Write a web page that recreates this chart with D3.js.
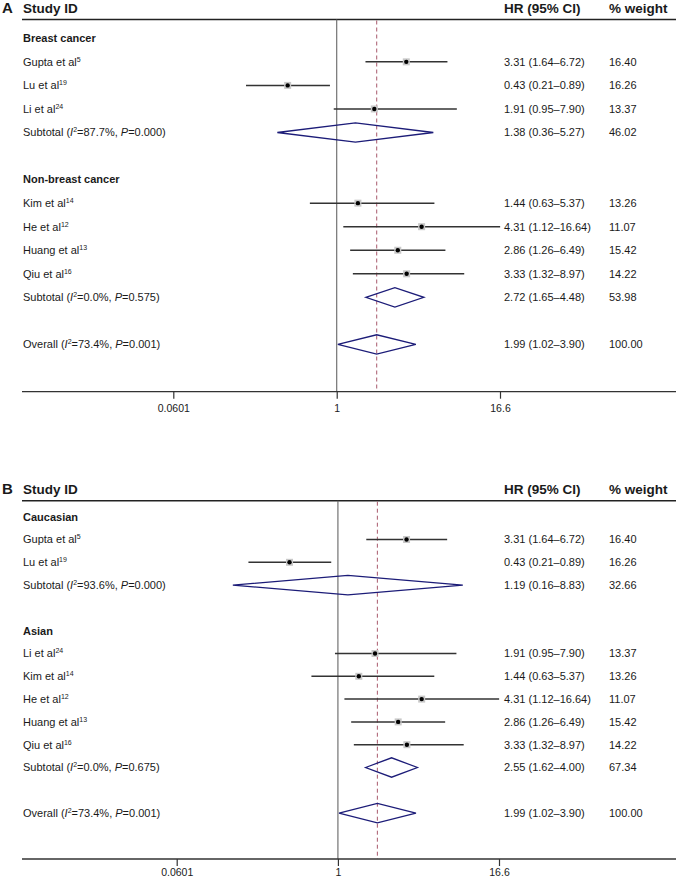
<!DOCTYPE html>
<html>
<head>
<meta charset="utf-8">
<script src="https://cdn.jsdelivr.net/npm/d3@7"></script>
<style>
  html, body { margin: 0; padding: 0; background: #fff; }
  svg { display: block; font-family: "Liberation Sans", Arial, sans-serif; }
</style>
</head>
<body>
<svg id="chart" width="676" height="880"></svg>
<script>
// ---------------- DATA ----------------
const studyNames = ["Gupta et al", "Lu et al", "Li et al", "Kim et al", "He et al", "Huang et al", "Qiu et al"];
const studyRefs  = ["5", "19", "24", "14", "12", "13", "16"];
const studyHR    = [3.31, 0.43, 1.91, 1.44, 4.31, 2.86, 3.33];
const studyLo    = [1.64, 0.21, 0.95, 0.63, 1.12, 1.26, 1.32];
const studyHi    = [6.72, 0.89, 7.90, 5.37, 16.64, 6.49, 8.97];
const studyWt    = ["16.40", "16.26", "13.37", "13.26", "11.07", "15.42", "14.22"];

const groupsA        = ["Breast cancer", "Non-breast cancer"];
const membersA       = [[0, 1, 2], [3, 4, 5, 6]];
const subHR_A        = [1.38, 2.72];
const subLo_A        = [0.36, 1.65];
const subHi_A        = [5.27, 4.48];
const subWt_A        = ["46.02", "53.98"];
const subI2_A        = ["87.7%", "0.0%"];
const subP_A         = ["0.000", "0.575"];

const groupsB        = ["Caucasian", "Asian"];
const membersB       = [[0, 1], [2, 3, 4, 5, 6]];
const subHR_B        = [1.19, 2.55];
const subLo_B        = [0.16, 1.62];
const subHi_B        = [8.83, 4.00];
const subWt_B        = ["32.66", "67.34"];
const subI2_B        = ["93.6%", "0.0%"];
const subP_B         = ["0.000", "0.675"];

const overallHR = 1.99, overallLo = 1.02, overallHi = 3.90;
const overallWt = "100.00", overallI2 = "73.4%", overallP = "0.001";

const tickValues = [0.0601, 1, 16.6];
const tickLabels = ["0.0601", "1", "16.6"];

// ---------------- DRAWING ----------------
const svg = d3.select("#chart");
const FONT = "'Liberation Sans', Arial, sans-serif";
const TXT = "#1a1a1a";

function hrText(h, l, u) {
  return h.toFixed(2) + " (" + l.toFixed(2) + "\u2013" + u.toFixed(2) + ")";
}

function statLabel(sel, prefix, i2, p) {
  sel.append("tspan").text(prefix + " (");
  sel.append("tspan").attr("font-style", "italic").text("I");
  sel.append("tspan").attr("font-size", 7).attr("dy", -4).text("2");
  sel.append("tspan").attr("dy", 4).text("=" + i2 + ", ");
  sel.append("tspan").attr("font-style", "italic").text("P");
  sel.append("tspan").text("=" + p + ")");
}

function drawPanel(cfg) {
  const g = svg.append("g");
  const x = d3.scaleLog().domain([tickValues[0], tickValues[2]]).range(cfg.xRange);
  const rowY = i => cfg.row0 + i * cfg.step;

  // build rows
  const rows = [];
  let r = 0;
  cfg.groups.forEach((gn, gi) => {
    rows.push({type: "group", i: r++, label: gn});
    cfg.members[gi].forEach(s => rows.push({type: "study", i: r++, s}));
    rows.push({type: "sub", i: r++, gi});
    r++; // blank
  });
  rows.push({type: "overall", i: r});

  // header
  g.append("text").attr("x", 2).attr("y", cfg.headY).attr("font-size", 15).attr("font-weight", "bold")
    .attr("fill", TXT).text(cfg.letter);
  g.append("text").attr("x", 23).attr("y", cfg.headY).attr("font-size", 13.5).attr("font-weight", "bold")
    .attr("fill", TXT).text("Study ID");
  g.append("text").attr("x", 504).attr("y", cfg.headY).attr("font-size", 13.5).attr("font-weight", "bold")
    .attr("fill", TXT).text("HR (95% CI)");
  g.append("text").attr("x", 609).attr("y", cfg.headY).attr("font-size", 13.5).attr("font-weight", "bold")
    .attr("fill", TXT).text("% weight");
  g.append("line").attr("x1", 22).attr("x2", 676).attr("y1", cfg.lineY).attr("y2", cfg.lineY)
    .attr("stroke", "#222").attr("stroke-width", 1.4);

  // reference lines
  g.append("line").attr("x1", x(1)).attr("x2", x(1)).attr("y1", cfg.lineY).attr("y2", cfg.axisY)
    .attr("stroke", "#666").attr("stroke-width", 1.1);
  g.append("line").attr("x1", x(overallHR)).attr("x2", x(overallHR)).attr("y1", cfg.lineY + 1).attr("y2", cfg.axisY)
    .attr("stroke", "#a8596b").attr("stroke-width", 1).attr("stroke-dasharray", "4,3");

  const txt = (y, xx, bold) => g.append("text").attr("x", xx).attr("y", y).attr("dy", "0.35em")
    .attr("font-size", 11).attr("font-weight", bold ? "bold" : "normal").attr("fill", TXT);

  rows.forEach(row => {
    const y = rowY(row.i);
    if (row.type === "group") {
      txt(y, 23, true).text(row.label);
    } else if (row.type === "study") {
      const s = row.s;
      const t = txt(y, 23);
      t.append("tspan").text(studyNames[s]);
      t.append("tspan").attr("font-size", 7).attr("dy", -4).text(studyRefs[s]);
      g.append("line").attr("x1", x(studyLo[s])).attr("x2", x(studyHi[s])).attr("y1", y).attr("y2", y)
        .attr("stroke", "#333").attr("stroke-width", 1.5);
      g.append("rect").attr("x", x(studyHR[s]) - 3.5).attr("y", y - 3.5).attr("width", 7).attr("height", 7)
        .attr("fill", "#c8c8c8");
      g.append("circle").attr("cx", x(studyHR[s])).attr("cy", y).attr("r", 2.2).attr("fill", "#000");
      txt(y, 504).text(hrText(studyHR[s], studyLo[s], studyHi[s]));
      txt(y, 609).text(studyWt[s]);
    } else {
      let h, l, u, w, i2, p, prefix;
      if (row.type === "sub") {
        const k = row.gi;
        h = cfg.subHR[k]; l = cfg.subLo[k]; u = cfg.subHi[k]; w = cfg.subWt[k];
        i2 = cfg.subI2[k]; p = cfg.subP[k]; prefix = "Subtotal";
      } else {
        h = overallHR; l = overallLo; u = overallHi; w = overallWt;
        i2 = overallI2; p = overallP; prefix = "Overall";
      }
      statLabel(txt(y, 23), prefix, i2, p);
      const hh = 9.7;
      g.append("path")
        .attr("d", `M${x(l)},${y}L${x(h)},${y - hh}L${x(u)},${y}L${x(h)},${y + hh}Z`)
        .attr("fill", "none").attr("stroke", "#1c1c78").attr("stroke-width", 1.3);
      txt(y, 504).text(hrText(h, l, u));
      txt(y, 609).text(w);
    }
  });

  // axis
  g.append("line").attr("x1", 22).attr("x2", 676).attr("y1", cfg.axisY).attr("y2", cfg.axisY)
    .attr("stroke", "#333").attr("stroke-width", 1.3);
  const axis = d3.axisBottom(x).tickValues(tickValues)
    .tickFormat((d, i) => tickLabels[i]).tickSize(7).tickPadding(cfg.tickPad);
  const ag = g.append("g").attr("transform", `translate(0,${cfg.axisY})`).call(axis);
  ag.select(".domain").remove();
  ag.selectAll(".tick line").attr("stroke", "#333").attr("stroke-width", 1.2);
  ag.selectAll(".tick text").attr("font-size", 10.5).attr("font-family", FONT).attr("fill", TXT);
}

drawPanel({
  letter: "A", headY: 13, lineY: 19.5, row0: 38.3, step: 23.55, axisY: 391.7, tickPad: 6,
  xRange: [173.3, 500],
  groups: groupsA, members: membersA,
  subHR: subHR_A, subLo: subLo_A, subHi: subHi_A, subWt: subWt_A, subI2: subI2_A, subP: subP_A
});
drawPanel({
  letter: "B", headY: 493.5, lineY: 500.7, row0: 516.7, step: 22.8, axisY: 859, tickPad: 3,
  xRange: [176.7, 499],
  groups: groupsB, members: membersB,
  subHR: subHR_B, subLo: subLo_B, subHi: subHi_B, subWt: subWt_B, subI2: subI2_B, subP: subP_B
});
</script>
</body>
</html>
